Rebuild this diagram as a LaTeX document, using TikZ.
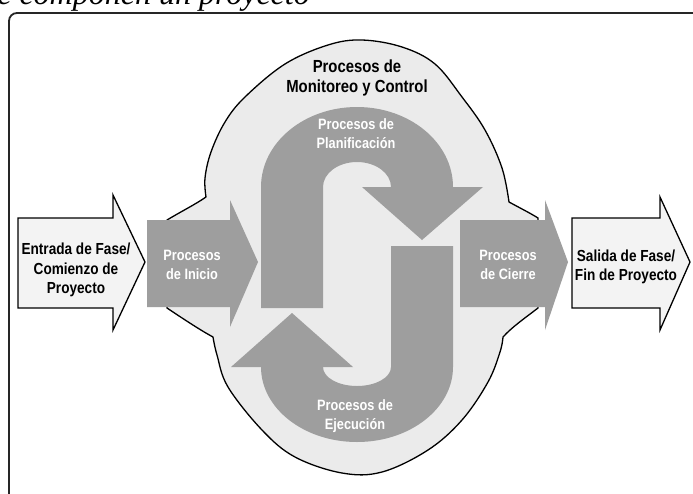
\documentclass[tikz,border=0pt]{standalone}
\usepackage{fontspec}
\setmainfont{Liberation Sans}
\newfontfamily\condfont[FakeStretch=0.85]{Liberation Sans}
\newfontfamily\capfont{Liberation Serif}
\definecolor{blobgray}{HTML}{EBEBEB}
\definecolor{procgray}{HTML}{9E9E9E}
\definecolor{phasegray}{HTML}{F3F3F3}
\begin{document}
\begin{tikzpicture}[x=1pt,y=-1pt,
  frame/.style={draw=black!85,line width=1.8pt},
  blobshape/.style={fill=blobgray,draw=black,line width=1.3pt,line join=round},
  procshape/.style={fill=procgray},
  phaseshape/.style={fill=phasegray,draw=black,line width=1.3pt,line join=miter},
  blacktext/.style={font=\condfont\bfseries\fontsize{16}{19.5}\selectfont,align=center,text=black,inner sep=0pt},
  montext/.style={font=\condfont\bfseries\fontsize{17.5}{20}\selectfont,align=center,text=black,inner sep=0pt},
  whitetext/.style={font=\condfont\bfseries\fontsize{15}{19}\selectfont,align=center,text=white,inner sep=0pt},
  captext/.style={font=\capfont\itshape\fontsize{32}{36}\selectfont,inner sep=0pt,text=black}
]
\useasboundingbox (0,0) rectangle (693,493);
\fill[white] (0,0) rectangle (693,493);

% cropped caption
\node[captext,anchor=base east] (caption) at (310,4) {que componen un proyecto};

% frame
\draw[frame,rounded corners=8pt] (9,500) -- (9,13) -- (700,13);

% monitoring blob
\path[blobshape] (167,220) .. controls (182,211) and (196,204) .. (206,197)
  -- plot[smooth,tension=0.6] coordinates {(206,197) (205,178) (211,152) (225,122) (245,97) (285,64) (328,45) (362,40) (402,47) (435,64) (462,97) (485,130) (502,168) (509,202)}
  .. controls (520,208) and (530,213) .. (538,218) -- (538,308)
  .. controls (525,318) and (512,327) .. (503,337)
  -- plot[smooth,tension=0.6] coordinates {(503,337) (500,352) (488,382) (462,420) (428,450) (382,472) (342,473) (295,457) (262,430) (228,387) (217,355) (213,337)}
  .. controls (200,330) and (182,318) .. (167,308) -- cycle;

% planning U-arrow
\path[procshape] (261,308) -- (261,187)
  arc[start angle=180,end angle=360,x radius=96,y radius=80]
  -- (483,187) -- (422,240) -- (362,187) -- (391,187)
  arc[start angle=0,end angle=-180,x radius=34,y radius=25]
  -- (323,308) -- cycle;

% execution J-arrow
\path[procshape] (453,246) -- (453,367)
  arc[start angle=0,end angle=180,x radius=96,y radius=75]
  -- (231,367) -- (292,313) -- (353,367) -- (323,367)
  arc[start angle=180,end angle=0,x radius=34,y radius=19]
  -- (391,246) -- cycle;

% initiating and closing arrows
\path[procshape] (147,220) -- (230,220) -- (230,200) -- (258,262) -- (230,327) -- (230,307) -- (147,307) -- cycle;
\path[procshape] (460,220) -- (545,220) -- (545,200) -- (568,262) -- (545,330) -- (545,307) -- (460,307) -- cycle;

% phase arrows
\path[phaseshape] (18,218) -- (113,218) -- (113,195) -- (145,262) -- (113,330) -- (113,308) -- (18,308) -- cycle;
\path[phaseshape] (572,218) -- (660,218) -- (660,197) -- (690,262) -- (660,330) -- (660,308) -- (572,308) -- cycle;

% texts
\node[montext] (mon) at (357,78) {Procesos de\\Monitoreo y Control};
\node[whitetext] (plan) at (356,134) {Procesos de\\Planificación};
\node[whitetext] (exec) at (355,416) {Procesos de\\Ejecución};
\node[whitetext] (ini) at (192,265) {Procesos\\de Inicio};
\node[whitetext] (cie) at (508,265) {Procesos\\de Cierre};
\node[blacktext] (ent) at (76,270) {Entrada de Fase/\\Comienzo de\\Proyecto};
\node[blacktext] (sal) at (626,267) {Salida de Fase/\\Fin de Proyecto};
\end{tikzpicture}
\end{document}
